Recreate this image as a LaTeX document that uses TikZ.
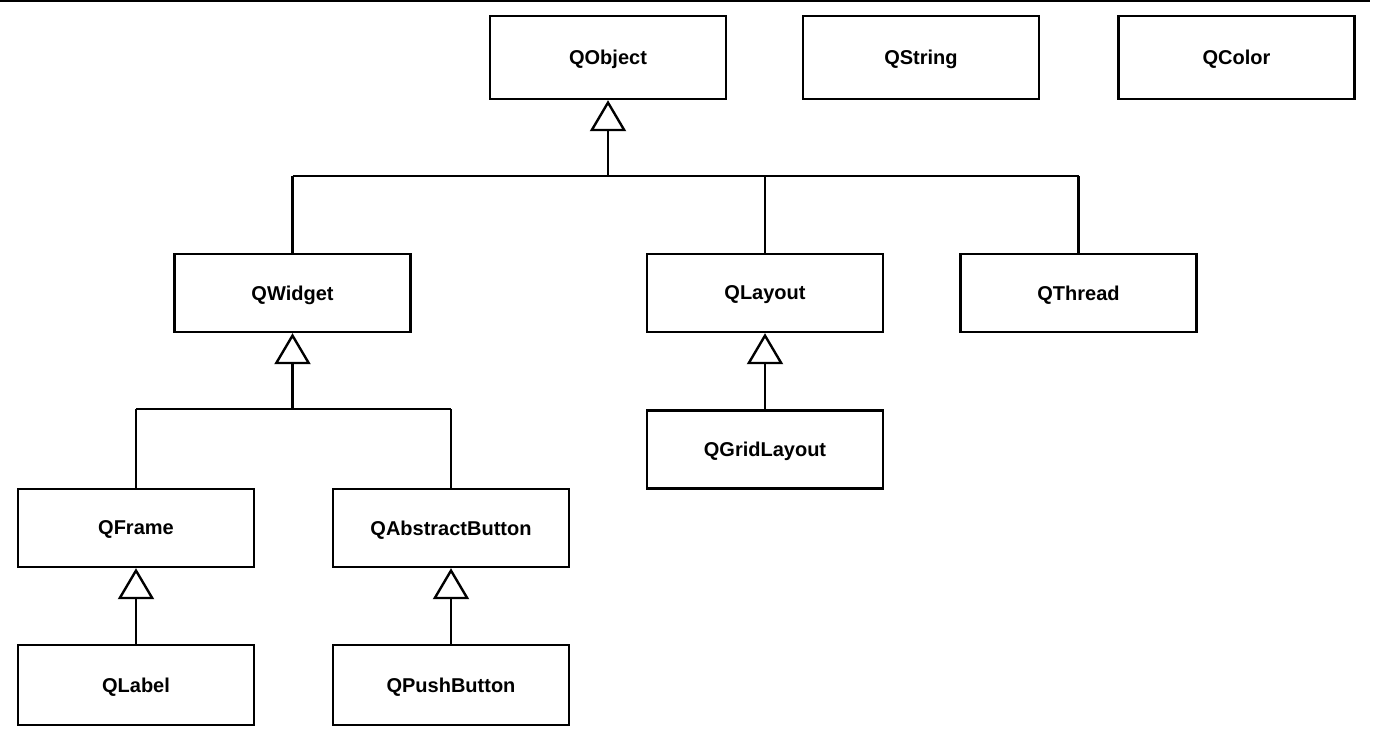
\documentclass[tikz,border=0pt]{standalone}
\usepackage{fontspec}
\setmainfont{Liberation Sans}
\usetikzlibrary{arrows.meta}
\begin{document}
\begin{tikzpicture}[x=1pt,y=-1pt,
  cls/.style={draw, line width=2.4pt, fill=white, inner sep=0pt, minimum width=236pt, minimum height=78pt, text depth=0pt, font=\fontsize{20}{24}\selectfont\bfseries},
  tall/.style={minimum height=83pt},
  link/.style={line width=2.4pt},
  inh/.style={line width=2.4pt, -{Triangle[open, length=31pt, width=36pt, line width=2.4pt]}}]
\useasboundingbox (0,0) rectangle (1376,749);
\coordinate (tl) at (0,1);
\coordinate (tr) at (1370,1);
\draw[line width=2pt] (tl) -- (tr);
% classes
\node[cls,tall] (qobject) at (608,57.5) {QObject};
\node[cls,tall] (qstring) at (921,57.5) {QString};
\node[cls,tall] (qcolor) at (1236.5,57.5) {QColor};
\node[cls] (qwidget) at (292.5,293) {QWidget};
\node[cls] (qlayout) at (765,293) {QLayout};
\node[cls] (qthread) at (1078.5,293) {QThread};
\node[cls] (qgrid) at (765,449.5) {QGridLayout};
\node[cls] (qframe) at (136,528) {QFrame};
\node[cls] (qabs) at (451,528) {QAbstractButton};
\node[cls,minimum height=80pt] (qlabel) at (136,685) {QLabel};
\node[cls,minimum height=80pt] (qpush) at (451,685) {QPushButton};
% junctions
\coordinate (j1) at (608,176);
\coordinate (j1l) at (292.5,176);
\coordinate (j1m) at (765,176);
\coordinate (j1r) at (1078.5,176);
\coordinate (j2) at (292.5,409);
\coordinate (j2l) at (136,409);
\coordinate (j2r) at (451,409);
% connectors
\draw[link] (j1l) -- (j1r);
\draw[inh] (j1) -- (qobject.south);
\draw[link] (j1l) -- (qwidget.north);
\draw[link] (j1m) -- (qlayout.north);
\draw[link] (j1r) -- (qthread.north);
\draw[link] (j2l) -- (j2r);
\draw[inh] (j2) -- (qwidget.south);
\draw[link] (j2l) -- (qframe.north);
\draw[link] (j2r) -- (qabs.north);
\draw[inh] (qgrid.north) -- (qlayout.south);
\draw[inh] (qlabel.north) -- (qframe.south);
\draw[inh] (qpush.north) -- (qabs.south);
\end{tikzpicture}
\end{document}
